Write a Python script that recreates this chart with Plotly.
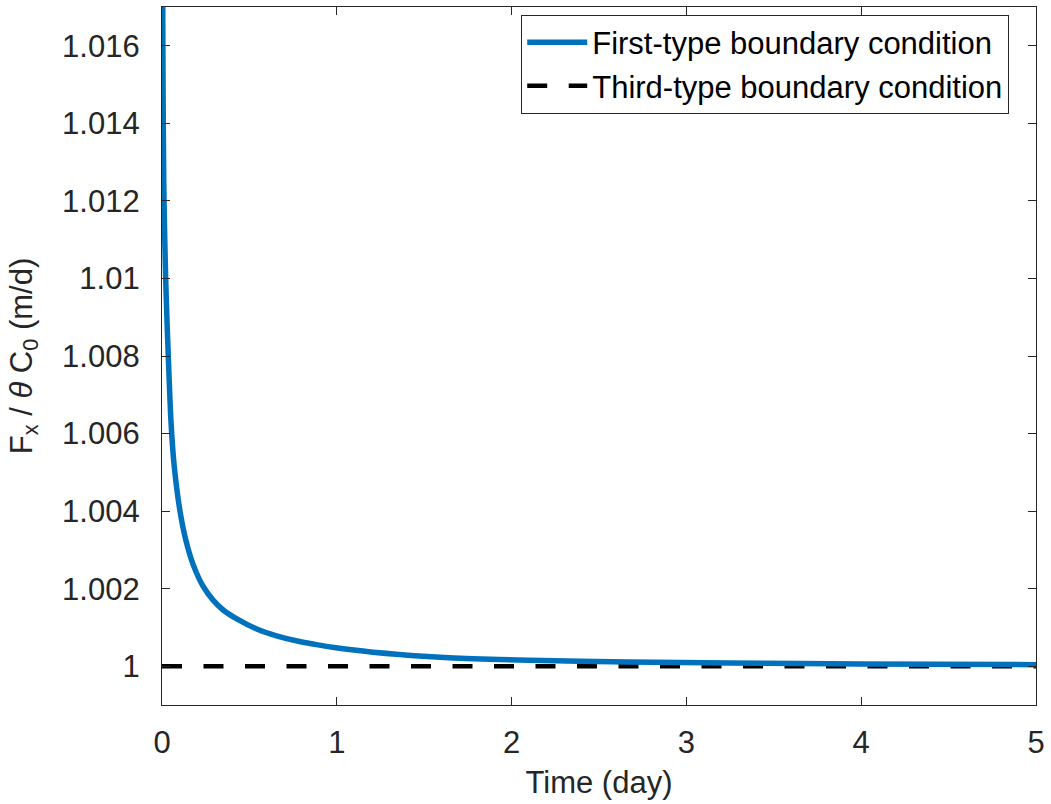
import plotly.graph_objects as go

# ---- data ----
time_first = [0.003, 0.006, 0.010, 0.015, 0.021, 0.028, 0.036, 0.051, 0.069, 0.103,
              0.137, 0.18, 0.234, 0.291, 0.35, 0.428, 0.542, 0.65, 0.787, 0.9,
              1.072, 1.358, 1.643, 2.1, 2.67, 3.24, 4.0, 5.0]
flux_first = [1.01850, 1.01500, 1.01250, 1.01120, 1.01000, 1.00900, 1.00800, 1.00635, 1.00520, 1.00400,
              1.00324, 1.00260, 1.00207, 1.00171, 1.00145, 1.00122, 1.00096, 1.00079, 1.000636, 1.000545,
              1.00043, 1.00030, 1.00022, 1.000156, 1.000109, 1.000081, 1.000058, 1.000040]

time_third = [0.0, 5.0]
flux_third = [1.0, 1.0]

x_tick_vals = [0, 1, 2, 3, 4, 5]
x_tick_text = ["0", "1", "2", "3", "4", "5"]
y_tick_vals = [1.0, 1.002, 1.004, 1.006, 1.008, 1.010, 1.012, 1.014, 1.016]
y_tick_text = ["1", "1.002", "1.004", "1.006", "1.008", "1.01", "1.012", "1.014", "1.016"]

FONT = "Liberation Sans, Arial, sans-serif"
AX = "#262626"

fig = go.Figure()
fig.add_trace(go.Scatter(
    x=time_third, y=flux_third, mode="lines",
    name="Third-type boundary condition",
    line=dict(color="black", width=4.5, dash="20px,21.5px"),
))
fig.add_trace(go.Scatter(
    x=time_first, y=flux_first, mode="lines",
    name="First-type boundary condition",
    line=dict(color="#0072BD", width=5.5, shape="spline", smoothing=0.8),
))

axis_common = dict(
    showgrid=False, zeroline=False, showline=True, linecolor=AX, linewidth=1.2,
    mirror="ticks", ticks="inside", ticklen=8, tickcolor=AX, tickwidth=1.2,
    tickfont=dict(family=FONT, size=31, color=AX),
)

fig.update_layout(
    width=1051, height=804,
    margin=dict(l=162, r=13, t=6, b=99),
    paper_bgcolor="white", plot_bgcolor="white",
    font=dict(family=FONT, color=AX),
    xaxis=dict(range=[0, 5], tickmode="array", tickvals=x_tick_vals, ticktext=x_tick_text,
               ticklabelstandoff=10,
               title=dict(text="Time (day)", font=dict(family=FONT, size=31, color=AX), standoff=12),
               **axis_common),
    yaxis=dict(range=[0.999, 1.017], tickmode="array", tickvals=y_tick_vals, ticktext=y_tick_text,
               ticklabelstandoff=15,
               title=dict(text="F<sub>x</sub> / <i>θ</i> C<sub>0</sub> (m/d)",
                          font=dict(family=FONT, size=31, color=AX), standoff=20),
               **axis_common),
    legend=dict(x=0.411, y=0.989, xanchor="left", yanchor="top",
                bgcolor="white", bordercolor=AX, borderwidth=1,
                font=dict(family=FONT, size=31, color="black"),
                traceorder="reversed", itemwidth=60, tracegroupgap=0),
    showlegend=True,
)

fig.write_html("out.html")
